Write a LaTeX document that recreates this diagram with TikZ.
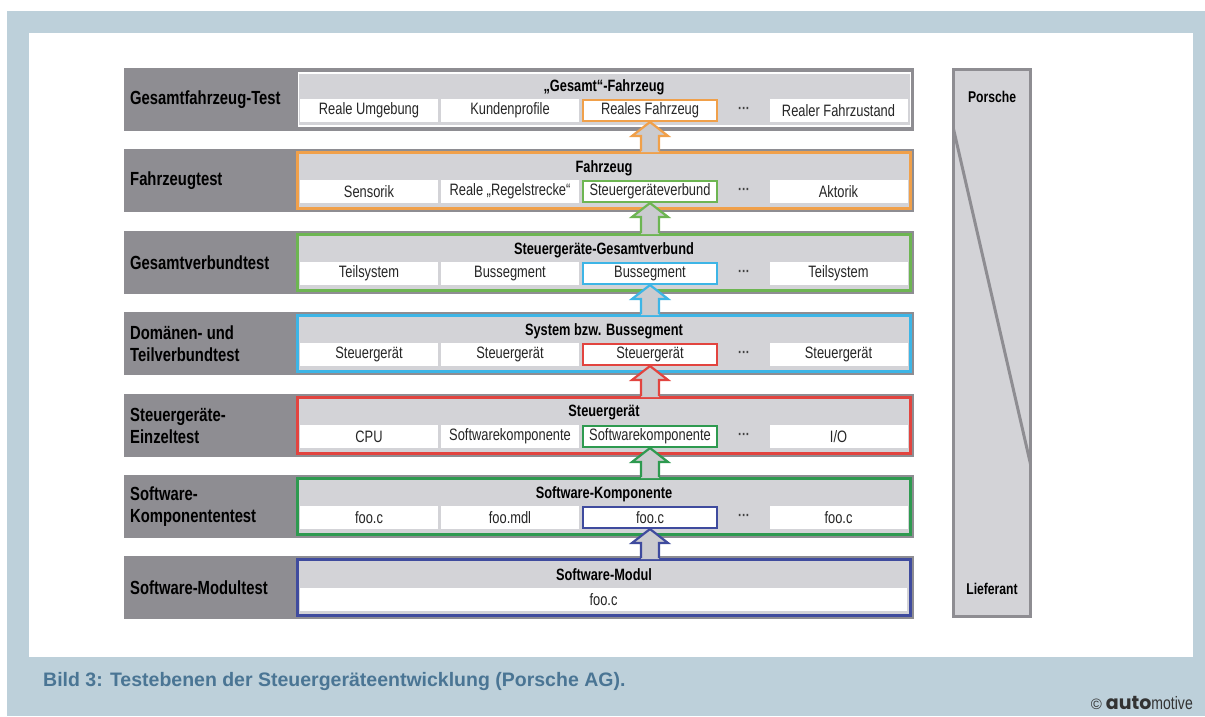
\documentclass[tikz,border=0pt]{standalone}
\usepackage{fontspec}
\setmainfont{Liberation Sans}[FakeStretch=0.78]
\newfontfamily\capfont{Liberation Sans}
\newfontfamily\popfont{Poppins}
\usetikzlibrary{calc}
\definecolor{bgblue}{HTML}{BDD0DA}
\definecolor{capblue}{HTML}{4A7594}
\definecolor{band}{HTML}{8E8D92}
\definecolor{panel}{HTML}{D3D3D7}
\definecolor{arrowfill}{HTML}{CBCBCF}
\definecolor{cOrange}{HTML}{F0A04A}
\definecolor{cLGreen}{HTML}{6DB552}
\definecolor{cCyan}{HTML}{3DB5E6}
\definecolor{cRed}{HTML}{E2443F}
\definecolor{cDGreen}{HTML}{2E9A50}
\definecolor{cBlue}{HTML}{3F4B9E}
\tikzset{
  bandbox/.style={fill=band, minimum width=790pt, minimum height=63pt, inner sep=0pt, outer sep=0pt},
  panelbox/.style={fill=panel, line width=3pt, minimum width=613pt, minimum height=56pt, inner sep=0pt},
  labeltext/.style={anchor=west, align=left, inner sep=0pt, font=\fontsize{19}{22}\selectfont\bfseries, text=black},
  titletext/.style={inner sep=0pt, font=\fontsize{16.4}{18}\selectfont\bfseries, text=black},
  item/.style={fill=white, minimum width=138pt, minimum height=23pt, inner sep=0pt, font=\fontsize{16.5}{18}\selectfont, text=black!85},
  hlitem/.style={item, draw=#1, line width=2pt, minimum width=134pt, minimum height=21pt},
  dotstext/.style={inner sep=0pt, font=\fontsize{15}{18}\selectfont\bfseries, text=black!75},
  sidebox/.style={fill=panel, draw=band, line width=3pt, inner sep=0pt},
  sidetext/.style={inner sep=0pt, font=\fontsize{15.6}{18}\selectfont\bfseries, text=black},
  arrowline/.style={line width=2.2pt, line join=miter, draw=#1},
}
\newcommand\bandrow[5]{%
  \node[bandbox] (#1band) at (519,#2+31.5) {};
  \node[panelbox, draw=#3] (#1panel) at (604,#2+31.5) {};
  \node[labeltext] (#1label) at (130,#2+31.5) {#4};
  \node[titletext] (#1title) at (604,#2+19) {#5};
}
\newcommand\itemrow[7]{%
  \node[item] (#1a) at (369,#2+42.5) {#4};
  \node[item] (#1b) at (510,#2+42.5) {#5};
  \node[hlitem=#3] (#1c) at (650,#2+42.5) {#6};
  \node[dotstext] (#1d) at (744,#2+42.5) {···};
  \node[item] (#1e) at (838.5,#2+42.5) {#7};
}
\newcommand\blockarr[3]{%
  \path (#1.south) coordinate (#1tip) (#1.south |- #2.north) coordinate (#1base);
  \fill[arrowfill] (#1tip) -- ++(18,14) -- ++(-9,0) -- ($(#1base)+(9,1)$) -- ($(#1base)+(-9,1)$) -- ($(#1tip)+(-9,14)$) -- ++(-9,0) -- cycle;
  \draw[arrowline=#3] ($(#1base)+(9,0)$) -- ($(#1tip)+(9,14)$) -- ++(9,0) -- (#1tip) -- ++(-18,14) -- ++(9,0) -- ($(#1base)+(-9,0)$);
}
\begin{document}
\begin{tikzpicture}[x=1pt,y=-1pt]
\useasboundingbox (0,0) rectangle (1205,716);
\fill[white] (0,0) rectangle (1205,716);
\fill[bgblue] (7,11) rectangle (1205,716);
\fill[white] (29,33) rectangle (1193,657);

% row 1
\node[bandbox] (r1band) at (519,68+31.5) {};
\node[fill=panel, draw=white, line width=1.2pt, minimum width=612pt, minimum height=53pt, inner sep=0pt] (r1panel) at (604.5,68+31.5) {};
\node[labeltext] (r1label) at (130,68+31.5) {Gesamtfahrzeug-Test};
\node[titletext] (r1title) at (604,68+19) {„Gesamt“-Fahrzeug};
\itemrow{r1}{68}{cOrange}{Reale Umgebung}{Kundenprofile}{Reales Fahrzeug}{Realer Fahrzustand}

\bandrow{r2}{149}{cOrange}{Fahrzeugtest}{Fahrzeug}
\itemrow{r2}{149}{cLGreen}{Sensorik}{Reale „Regelstrecke“}{Steuergeräteverbund}{Aktorik}

\bandrow{r3}{231}{cLGreen}{Gesamtverbundtest}{Steuergeräte-Gesamtverbund}
\itemrow{r3}{231}{cCyan}{Teilsystem}{Bussegment}{Bussegment}{Teilsystem}

\bandrow{r4}{312}{cCyan}{Domänen- und\\Teilverbundtest}{System bzw. Bussegment}
\itemrow{r4}{312}{cRed}{Steuergerät}{Steuergerät}{Steuergerät}{Steuergerät}

\bandrow{r5}{394}{cRed}{Steuergeräte-\\Einzeltest}{Steuergerät}
\itemrow{r5}{394}{cDGreen}{CPU}{Softwarekomponente}{Softwarekomponente}{I/O}

\bandrow{r6}{475}{cDGreen}{Software-\\Komponententest}{Software-Komponente}
\itemrow{r6}{475}{cBlue}{foo.c}{foo.mdl}{foo.c}{foo.c}

\bandrow{r7}{556}{cBlue}{Software-Modultest}{Software-Modul}
\node[item, minimum width=607pt] (r7a) at (603.5,556+43.5) {foo.c};

% arrows
\blockarr{r1c}{r2panel}{cOrange}
\blockarr{r2c}{r3panel}{cLGreen}
\blockarr{r3c}{r4panel}{cCyan}
\blockarr{r4c}{r5panel}{cRed}
\blockarr{r5c}{r6panel}{cDGreen}
\blockarr{r6c}{r7panel}{cBlue}

% side box
\node[sidebox, minimum width=77pt, minimum height=547pt] (side) at (992,343) {};
\draw[draw=band, line width=3pt] ($(side.north west)+(1.5,61)$) coordinate (dstart) -- ($(side.north east)+(-1.5,396)$) coordinate (dend);
\node[sidetext] (porsche) at (992,97) {Porsche};
\node[sidetext] (lieferant) at (992,589) {Lieferant};

% caption
\node[anchor=west, inner sep=0pt, text=capblue, font=\capfont\fontsize{19.5}{22}\selectfont\bfseries] (caption) at (43,681) {Bild 3: Testebenen der Steuergeräteentwicklung (Porsche AG).};
\node[anchor=east, inner sep=0pt, text=black!80] (logo) at (1193,703) {{\capfont\fontsize{15}{16}\selectfont ©}\hspace{4pt}{\popfont\fontsize{19}{20}\selectfont\bfseries auto}{\fontsize{18}{20}\selectfont motive}};
\end{tikzpicture}
\end{document}
